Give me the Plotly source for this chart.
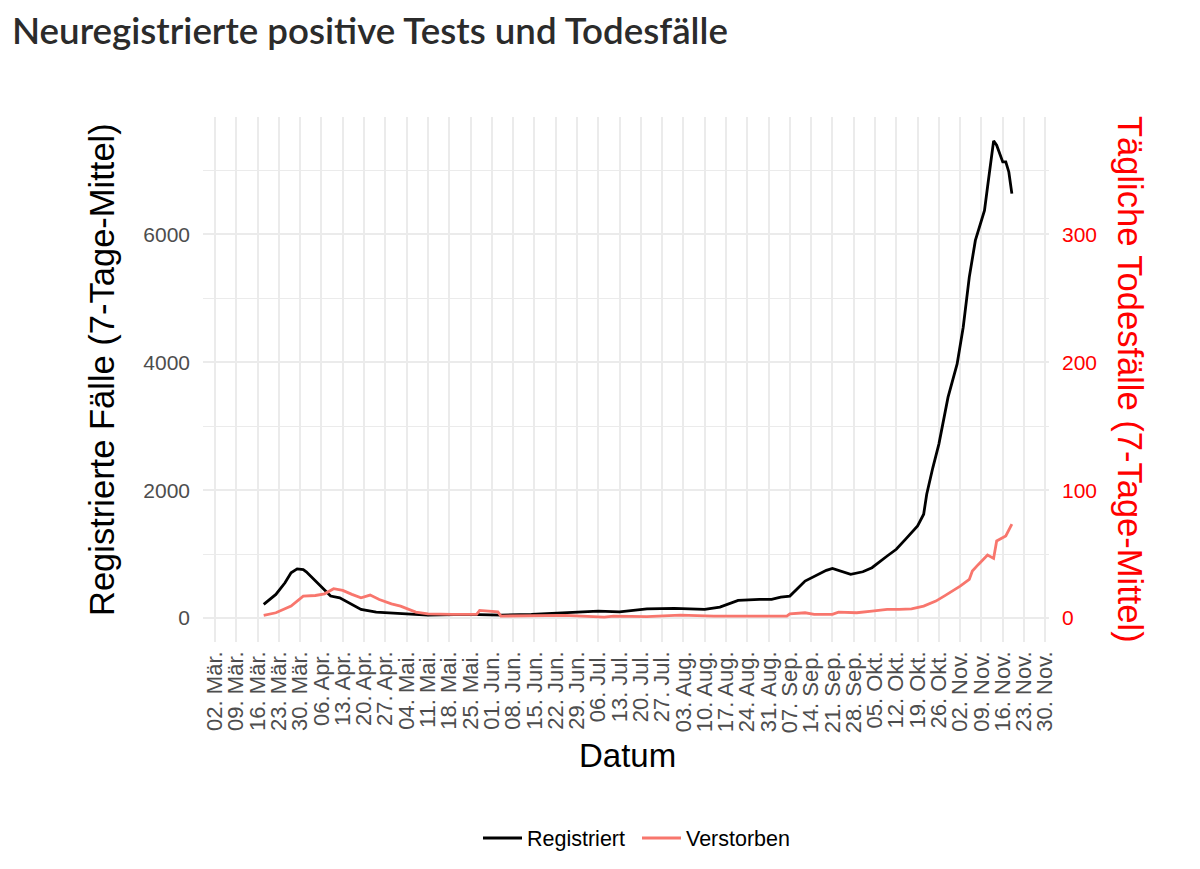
import plotly.graph_objects as go

# ---- data ----
case_dates = ["2020-03-18","2020-03-22","2020-03-25","2020-03-27","2020-03-29","2020-03-31",
              "2020-04-01","2020-04-04","2020-04-06","2020-04-09","2020-04-12","2020-04-16",
              "2020-04-19","2020-04-24","2020-04-29","2020-05-04","2020-05-11","2020-05-24",
              "2020-06-04","2020-06-14","2020-06-25","2020-07-06","2020-07-13","2020-07-22",
              "2020-07-31","2020-08-10","2020-08-15","2020-08-21","2020-08-28","2020-09-01",
              "2020-09-04","2020-09-07","2020-09-12","2020-09-19","2020-09-21","2020-09-27",
              "2020-10-01","2020-10-04","2020-10-09","2020-10-12","2020-10-15","2020-10-19",
              "2020-10-21","2020-10-22","2020-10-24","2020-10-26","2020-10-29","2020-11-01",
              "2020-11-03","2020-11-05","2020-11-07","2020-11-10","2020-11-11","2020-11-13",
              "2020-11-14","2020-11-16","2020-11-17","2020-11-18","2020-11-19"]
cases = [215, 371, 553, 710, 770, 760,
         725, 580, 475, 345, 318, 215,
         136, 94, 83, 67, 47, 58,
         47, 58, 83, 110, 99, 146,
         152, 136, 172, 277, 293, 293,
         329, 345, 580, 747, 778, 684,
         725, 788, 971, 1076, 1232, 1441,
         1624, 1937, 2350, 2720, 3450, 3973,
         4547, 5330, 5904, 6374, 6739, 7460,
         7392, 7131, 7131, 6974, 6636]

death_dates = ["2020-03-18","2020-03-22","2020-03-27","2020-03-31","2020-04-04","2020-04-07",
               "2020-04-10","2020-04-13","2020-04-16","2020-04-19","2020-04-22","2020-04-25",
               "2020-04-29","2020-05-02","2020-05-07","2020-05-11","2020-05-19","2020-05-27",
               "2020-05-28","2020-06-03","2020-06-04","2020-06-14","2020-06-25","2020-07-08",
               "2020-07-11","2020-07-22","2020-08-02","2020-08-13","2020-08-30","2020-09-06",
               "2020-09-07","2020-09-12","2020-09-15","2020-09-21","2020-09-23","2020-09-29",
               "2020-10-04","2020-10-09","2020-10-13","2020-10-17","2020-10-21","2020-10-25",
               "2020-10-28","2020-11-02","2020-11-05","2020-11-06","2020-11-08","2020-11-11",
               "2020-11-13","2020-11-14","2020-11-17","2020-11-19"]
deaths = [2.1, 4.2, 9.4, 17.2, 17.7, 19,
          23, 21.7, 18.6, 15.9, 18, 14.6,
          11.2, 9.4, 4.7, 3.4, 2.9, 2.9,
          6, 4.9, 1.6, 1.6, 2.1, 0.8,
          1.6, 1.2, 2.3, 1.6, 1.2, 1.6,
          3.4, 4.2, 2.9, 2.9, 4.7, 4.2,
          5.5, 6.8, 6.8, 7.3, 9.4, 13.3,
          17.6, 25, 30.3, 36.8, 42, 49.3,
          46.7, 60.3, 64.2, 73.4]

tick_dates = ["2020-03-02","2020-03-09","2020-03-16","2020-03-23","2020-03-30","2020-04-06",
              "2020-04-13","2020-04-20","2020-04-27","2020-05-04","2020-05-11","2020-05-18",
              "2020-05-25","2020-06-01","2020-06-08","2020-06-15","2020-06-22","2020-06-29",
              "2020-07-06","2020-07-13","2020-07-20","2020-07-27","2020-08-03","2020-08-10",
              "2020-08-17","2020-08-24","2020-08-31","2020-09-07","2020-09-14","2020-09-21",
              "2020-09-28","2020-10-05","2020-10-12","2020-10-19","2020-10-26","2020-11-02",
              "2020-11-09","2020-11-16","2020-11-23","2020-11-30"]
tick_labels = ["02. Mär.","09. Mär.","16. Mär.","23. Mär.","30. Mär.","06. Apr.",
               "13. Apr.","20. Apr.","27. Apr.","04. Mai.","11. Mai.","18. Mai.",
               "25. Mai.","01. Jun.","08. Jun.","15. Jun.","22. Jun.","29. Jun.",
               "06. Jul.","13. Jul.","20. Jul.","27. Jul.","03. Aug.","10. Aug.",
               "17. Aug.","24. Aug.","31. Aug.","07. Sep.","14. Sep.","21. Sep.",
               "28. Sep.","05. Okt.","12. Okt.","19. Okt.","26. Okt.","02. Nov.",
               "09. Nov.","16. Nov.","23. Nov.","30. Nov."]

left_ticks = [0, 2000, 4000, 6000]
right_ticks = [0, 100, 200, 300]

# ---- styling ----
FONT = "Liberation Sans, Arial, Helvetica, sans-serif"
GRID = "#EBEBEB"
RED = "#F8766D"
Y_RANGE = [-373, 7833]
SCALE = 20  # secondary axis = primary / 20

L, R, T, B = 203, 151, 117, 227
PW, PH = 1200 - L - R, 869 - T - B

def px(x):
    return (x - L) / PW

def py(y):
    return (869 - B - y) / PH

fig = go.Figure()
fig.add_trace(go.Scatter(x=case_dates, y=cases, mode="lines", name="Registriert",
                         line=dict(color="black", width=2.8), yaxis="y"))
fig.add_trace(go.Scatter(x=death_dates, y=deaths, mode="lines", name="Verstorben",
                         line=dict(color=RED, width=2.8), yaxis="y2"))

fig.update_layout(
    width=1200, height=869,
    margin=dict(l=L, r=R, t=T, b=B, autoexpand=False),
    paper_bgcolor="white", plot_bgcolor="white",
    font=dict(family=FONT, color="black"),
    showlegend=True,
    legend=dict(orientation="h", x=px(478), xanchor="left", y=py(838), yanchor="middle",
                font=dict(size=21.5, color="black", family=FONT), itemwidth=39,
                entrywidth=105, entrywidthmode="pixels",
                bgcolor="rgba(0,0,0,0)"),
    xaxis=dict(
        type="date", automargin=False,
        range=["2020-02-27 01:00", "2020-12-01 05:00"],
        tickvals=tick_dates, ticktext=tick_labels, tickangle=-90,
        tickfont=dict(size=22, color="#4D4D4D", family=FONT),
        showgrid=True, gridcolor=GRID, gridwidth=1.6,
        zeroline=False, showline=False, ticks="", ticklabelstandoff=4,
    ),
    yaxis=dict(
        range=Y_RANGE, tickvals=left_ticks, automargin=False,
        tickfont=dict(size=21, color="#4D4D4D", family=FONT),
        showgrid=True, gridcolor=GRID, gridwidth=1.6,
        minor=dict(dtick=1000, tick0=0, showgrid=True, gridcolor=GRID, gridwidth=0.8),
        zeroline=False, showline=False, ticks="", ticklabelstandoff=12,
    ),
    yaxis2=dict(
        range=[Y_RANGE[0] / SCALE, Y_RANGE[1] / SCALE], tickvals=right_ticks,
        overlaying="y", side="right", automargin=False,
        tickfont=dict(size=21, color="red", family=FONT),
        showgrid=False, zeroline=False, showline=False, ticks="", ticklabelstandoff=12,
    ),
    annotations=[
        dict(text="Neuregistrierte positive Tests und Todesfälle", xref="paper", yref="paper",
             x=px(10), y=py(30), xanchor="left", yanchor="middle",
             showarrow=False, font=dict(family="Lato", size=36.7, color="#2B2B2B", weight=600)),
        dict(text="Datum", xref="paper", yref="paper", x=px(627), y=py(755),
             xanchor="center", yanchor="middle", showarrow=False,
             font=dict(family=FONT, size=33, color="black")),
        dict(text="Registrierte Fälle (7-Tage-Mittel)", xref="paper", yref="paper",
             x=px(102), y=py(370), xanchor="center", yanchor="middle", textangle=-90,
             showarrow=False, font=dict(family=FONT, size=34.5, color="black")),
        dict(text="Tägliche Todesfälle (7-Tage-Mittel)", xref="paper", yref="paper",
             x=px(1130), y=py(379), xanchor="center", yanchor="middle", textangle=90,
             showarrow=False, font=dict(family=FONT, size=34.5, color="red")),
    ],
)

fig.write_html("out.html", config={"displayModeBar": False},
               post_script="document.body.style.margin='0px';")
